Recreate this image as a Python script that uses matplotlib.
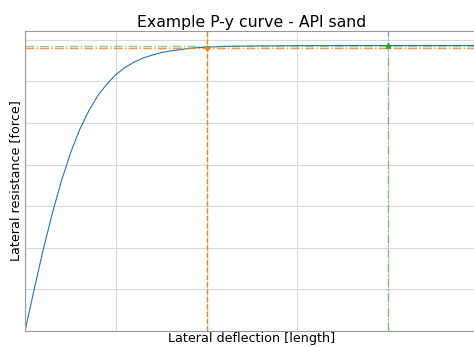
import matplotlib
matplotlib.use('Agg')
import matplotlib.pyplot as plt

# curve points
y_defl = [0, 0.1, 0.2, 0.3, 0.4, 0.5, 0.6, 0.7, 0.8, 0.9, 1.0,
          1.1, 1.2, 1.3, 1.4, 1.5, 1.6, 1.7, 1.8, 1.9, 2.0, 2.2,
          2.5, 3.0, 3.5, 4.0, 4.5, 5.0]
p_res = [0, 0.99, 1.95, 2.82, 3.60, 4.27, 4.83, 5.28, 5.65, 5.93, 6.16,
         6.33, 6.46, 6.56, 6.63, 6.69, 6.73, 6.76, 6.79, 6.81, 6.82, 6.84,
         6.85, 6.858, 6.86, 6.86, 6.86, 6.86]

y_half = 2.0
p_half = 6.81
y_ult = 4.0
p_ult = 6.86

fig = plt.figure(figsize=(4.74, 3.47), dpi=100)
ax = fig.add_axes([25 / 474, 16 / 347, 5 * 90.75 / 474, 300 / 347])

ax.plot(y_defl, p_res, color='C0', lw=0.8)

ax.axvline(y_half, color='C1', ls='--', lw=1)
ax.axhline(p_half, color='C1', ls='-.', lw=1, alpha=0.8)
ax.plot(y_half, p_half, 'o', color='C1', ms=2.5)

ax.axvline(y_ult, color='C2', ls='-.', lw=1, alpha=0.5)
ax.axhline(p_ult, color='C2', ls='-.', lw=1, alpha=0.5)
ax.plot(y_ult, p_ult, '*', color='C2', ms=4)

ax.set_xlim(0, 5)
ax.set_ylim(0, 7.21)
ax.set_xticks([0, 1, 2, 3, 4, 5])
ax.set_yticks([0, 1, 2, 3, 4, 5, 6, 7])
ax.set_xticklabels([])
ax.set_yticklabels([])
ax.tick_params(length=0, pad=0)
ax.grid(True, color='#d9d9d9', lw=0.8)
for s in ax.spines.values():
    s.set_color('#999999')

ax.set_title('Example P-y curve - API sand', fontsize=11.3, pad=3)
ax.set_xlabel('Lateral deflection [length]', fontsize=9.2, labelpad=1)
ax.set_ylabel('Lateral resistance [force]', fontsize=9.2, labelpad=2)

fig.savefig('out.png', dpi=100)
